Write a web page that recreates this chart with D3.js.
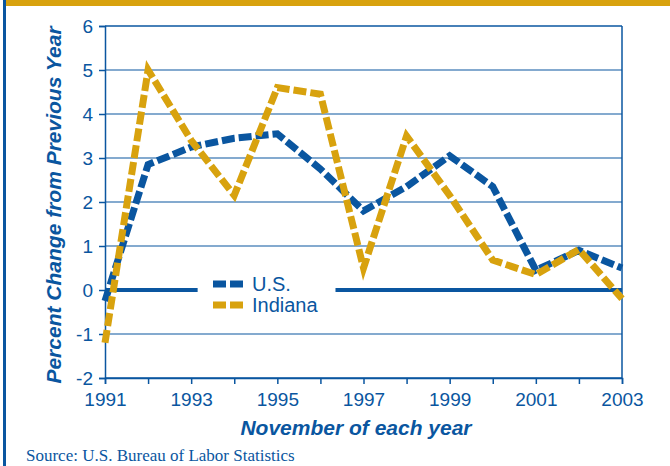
<!DOCTYPE html>
<html>
<head>
<meta charset="utf-8">
<script src="https://cdn.jsdelivr.net/npm/d3@7"></script>
<style>
  body { margin: 0; background: #fff; }
  svg { display: block; }
</style>
</head>
<body>
<svg id="chart"></svg>
<script>
// Chart data
const years = d3.range(1991, 2004);
const usValues = [-0.25, 2.85, 3.25, 3.45, 3.55, 2.75, 1.8, 2.35, 3.05, 2.35, 0.45, 0.9, 0.5];
const indianaValues = [-1.2, 5.0, 3.4, 2.15, 4.6, 4.45, 0.5, 3.5, 2.15, 0.68, 0.35, 0.92, -0.2];
const yTicks = [-2, -1, 0, 1, 2, 3, 4, 5, 6];
const xTickLabels = [1991, 1993, 1995, 1997, 1999, 2001, 2003];

const width = 670, height = 466;
const blue = "#0a56a0", gold = "#d8a20e";
const sans = "'Liberation Sans', Arial, sans-serif";

const svg = d3.select("#chart")
    .attr("width", width)
    .attr("height", height);

// Frame decoration
svg.append("rect").attr("x", 6).attr("y", 0).attr("width", width - 6).attr("height", 6).attr("fill", gold);
svg.append("rect").attr("x", 3).attr("y", 0).attr("width", 3).attr("height", height).attr("fill", blue);

const x = d3.scaleLinear().domain([1991, 2003]).range([105, 622]);
const y = d3.scaleLinear().domain([-2, 6]).range([378, 26]);

// Grid lines
svg.append("g")
    .selectAll("line")
    .data(yTicks.filter(d => d !== 0))
    .enter().append("line")
    .attr("x1", x(1991)).attr("x2", x(2003))
    .attr("y1", d => y(d)).attr("y2", d => y(d))
    .attr("stroke", blue)
    .attr("stroke-width", d => (d === 6 || d === -2) ? 1.5 : 1.2);

// Right border
svg.append("line")
    .attr("x1", x(2003)).attr("x2", x(2003))
    .attr("y1", y(6)).attr("y2", y(-2))
    .attr("stroke", blue).attr("stroke-width", 1.5);

// Axes
const yAxis = svg.append("g")
    .attr("transform", `translate(${x(1991)},0)`)
    .call(d3.axisLeft(y).tickValues(yTicks).tickSize(6).tickPadding(6).tickFormat(d => String(d)));
const xAxis = svg.append("g")
    .attr("transform", `translate(0,${y(-2)})`)
    .call(d3.axisBottom(x).tickValues(years).tickSize(6).tickPadding(6)
        .tickFormat(d => xTickLabels.includes(d) ? String(d) : ""));

[yAxis, xAxis].forEach(a => {
    a.select(".domain").attr("stroke", blue).attr("stroke-width", 1.5);
    a.selectAll(".tick line").attr("stroke", blue).attr("stroke-width", 1.5);
    a.selectAll(".tick text")
        .attr("fill", blue)
        .style("font-family", sans)
        .style("font-size", "19px");
});
xAxis.selectAll(".tick text").attr("dy", "0.85em");

// Zero line with gap for legend
const zeroSegs = [[1991, 1993.15], [1996.35, 2003]];
svg.append("g")
    .selectAll("line")
    .data(zeroSegs)
    .enter().append("line")
    .attr("x1", d => x(d[0])).attr("x2", d => x(d[1]))
    .attr("y1", y(0)).attr("y2", y(0))
    .attr("stroke", blue).attr("stroke-width", 4);

// Series lines
const line = d3.line()
    .x((d, i) => x(years[i]))
    .y(d => y(d));

const series = [
    { name: "U.S.", values: usValues, color: blue },
    { name: "Indiana", values: indianaValues, color: gold }
];

svg.append("g")
    .selectAll("path")
    .data(series)
    .enter().append("path")
    .attr("d", d => line(d.values))
    .attr("fill", "none")
    .attr("stroke", d => d.color)
    .attr("stroke-width", 7)
    .attr("stroke-dasharray", "13,4")
    .attr("stroke-linejoin", "miter");

// Legend
const legend = svg.append("g").attr("transform", "translate(213,284)");
legend.selectAll("g")
    .data(series)
    .enter().append("g")
    .attr("transform", (d, i) => `translate(0,${i * 21})`)
    .each(function (d) {
        const g = d3.select(this);
        g.append("line")
            .attr("x1", 0).attr("x2", 30).attr("y1", 0).attr("y2", 0)
            .attr("stroke", d.color).attr("stroke-width", 7)
            .attr("stroke-dasharray", "13,4");
        g.append("text")
            .attr("x", 39).attr("y", 0).attr("dy", "0.35em")
            .attr("fill", blue)
            .style("font-family", sans)
            .style("font-size", "20px")
            .text(d.name);
    });

// Axis titles
svg.append("text")
    .attr("transform", "translate(61,205) rotate(-90)")
    .attr("text-anchor", "middle")
    .attr("fill", blue)
    .style("font-family", sans)
    .style("font-size", "21px")
    .style("font-weight", "bold")
    .style("font-style", "italic")
    .text("Percent Change from Previous Year");

svg.append("text")
    .attr("x", 356).attr("y", 435)
    .attr("text-anchor", "middle")
    .attr("fill", blue)
    .style("font-family", sans)
    .style("font-size", "21px")
    .style("font-weight", "bold")
    .style("font-style", "italic")
    .text("November of each year");

svg.append("text")
    .attr("x", 26).attr("y", 461)
    .attr("fill", blue)
    .style("font-family", "'Liberation Serif', 'Times New Roman', serif")
    .style("font-size", "17px")
    .text("Source: U.S. Bureau of Labor Statistics");
</script>
</body>
</html>
